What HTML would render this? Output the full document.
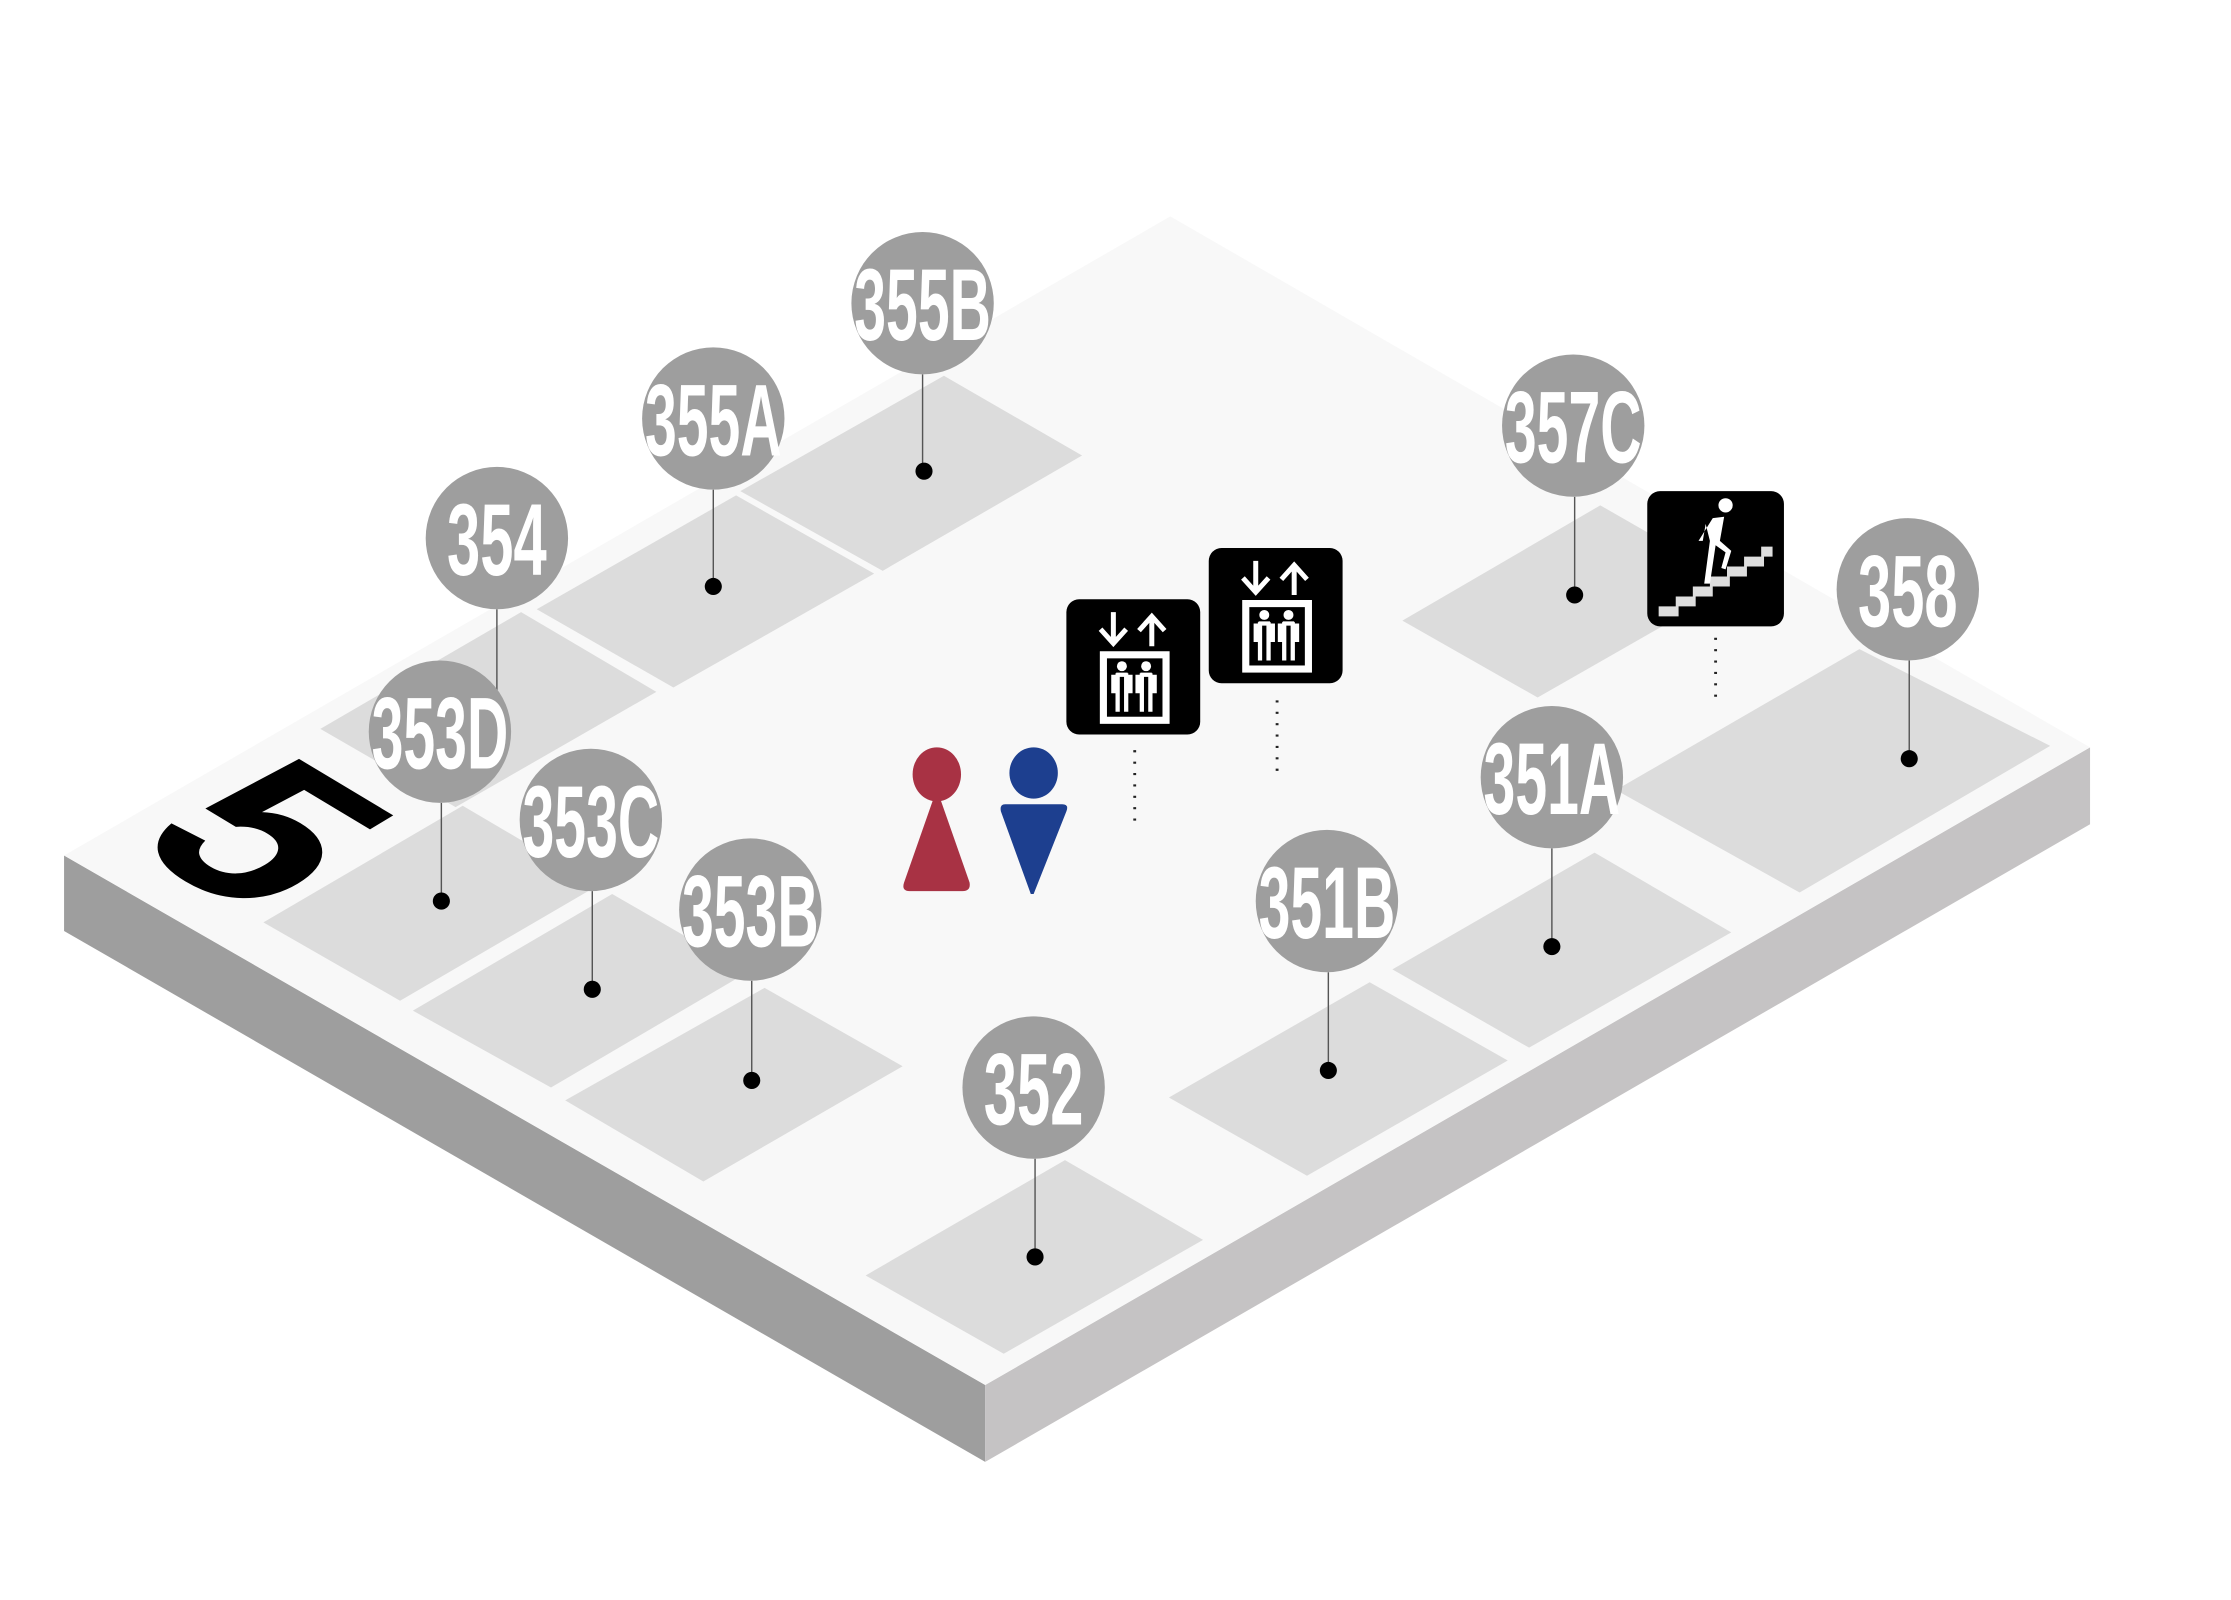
<!DOCTYPE html>
<html><head><meta charset="utf-8"><style>html,body{margin:0;padding:0;background:#fff}svg{display:block}</style></head><body>
<svg width="2231" height="1600" viewBox="0 0 1567 1124" preserveAspectRatio="none" xmlns="http://www.w3.org/2000/svg">
<defs>
<g id="elev">
<rect x="0" y="0" width="94" height="95" rx="9" fill="#000"/>
<g stroke="#fff" stroke-width="3.5" fill="none">
<path d="M33 9 V30 M24 21 L33 31 L42 21"/>
<path d="M60 33 V12 M51 22 L60 12 L69 22"/>
</g>
<rect x="26" y="39" width="44" height="46" fill="none" stroke="#fff" stroke-width="5"/>
<g fill="#fff"><circle cx="39" cy="47" r="3.5"/><circle cx="56" cy="47" r="3.5"/></g>
<g stroke="#fff" stroke-width="3" fill="none"><path d="M35 53 H43 M36 52 V79 M42 52 V79 M33 53 V66 M45 53 V66"/><path d="M52 53 H60 M53 52 V79 M59 52 V79 M50 53 V66 M62 53 V66"/></g>
</g>
</defs>
<rect width="1567" height="1124" fill="#fff"/>
<polygon points="45,601 692,973 692,1027 45,654" fill="#9e9e9e"/>
<polygon points="692,973 1468,525 1468,579 692,1027" fill="#c5c3c4"/>
<polygon points="45,601 822,152 1468,525 692,973" fill="#f8f8f8"/>
<g fill="#dcdcdc">
<polygon points="520,345 663,264 760,320 620,401"/>
<polygon points="377,428 517,348 614,403 473,483"/>
<polygon points="225,512 366,430 461,486 320,567"/>
<polygon points="185,648 325,566 420,622 281,703"/>
<polygon points="290,710 430,628 525,683 387,764"/>
<polygon points="397,773 537,694 634,749 494,830"/>
<polygon points="608,896 748,815 845,871 705,951"/>
<polygon points="821,771 962,690 1059,745 918,826"/>
<polygon points="978,681 1120,599 1216,655 1074,736"/>
<polygon points="1135,555 1306,456 1440,524 1264,627"/>
<polygon points="985,436 1124,355 1220,410 1080,490"/>
</g>
<text transform="matrix(1,0.6,-1,0.6,88,592)" font-family="Liberation Sans, sans-serif" font-weight="bold" font-size="160" fill="#000">5</text>
<ellipse cx="658" cy="544" rx="17" ry="19" fill="#a83244"/>
<path d="M656 560 H660 L681 620 Q682 626 676 626 H639 Q633 626 635 620 Z" fill="#a83244"/>
<ellipse cx="726" cy="543" rx="17" ry="18" fill="#1d3f8f"/>
<path d="M706 565 H746 Q751 565 749 570 L726 628 L724 628 L703 570 Q702 565 706 565 Z" fill="#1d3f8f"/>
<use href="#elev" x="749" y="421"/>
<use href="#elev" x="849" y="385"/>
<g stroke="#222" stroke-width="2" stroke-dasharray="1.5 6.5" fill="none">
<path d="M797 527 V582"/><path d="M897 492 V547"/><path d="M1205 448 V492"/>
</g>
<rect x="1157" y="345" width="96" height="95" rx="9" fill="#000"/>
<path d="M1165 433 V426 H1177 V419 H1189 V412 H1201 V405 H1213 V398 H1225 V391 H1237 V384 H1245 V391 H1239 V398 H1227 V405 H1215 V412 H1203 V419 H1191 V426 H1179 V433 Z" fill="#ddd"/>
<circle cx="1212" cy="355" r="5" fill="#fff"/>
<path d="M1203 364 L1211 363 L1208 380 L1216 387 L1212 400 L1209 399 L1212 388 L1205 383 L1201 410 L1197 410 L1201 380 L1198 368 L1196 380 L1193 380 Z" fill="#fff"/>
<g stroke="#555" stroke-width="1">
<path d="M648 263 V331"/><path d="M501 344 V412"/><path d="M349 428 V490"/><path d="M310 564 V633"/><path d="M416 626 V695"/><path d="M528 689 V759"/><path d="M727 814 V883"/><path d="M933 683 V752"/><path d="M1090 596 V665"/><path d="M1106 349 V418"/><path d="M1341 464 V533"/>
</g>
<g fill="#000">
<circle cx="649" cy="331" r="6"/><circle cx="501" cy="412" r="6"/><circle cx="310" cy="633" r="6"/><circle cx="416" cy="695" r="6"/><circle cx="528" cy="759" r="6"/><circle cx="727" cy="883" r="6"/><circle cx="933" cy="752" r="6"/><circle cx="1090" cy="665" r="6"/><circle cx="1106" cy="418" r="6"/><circle cx="1341" cy="533" r="6"/>
</g>
<g font-family="Liberation Sans, sans-serif" font-weight="bold" font-size="72" fill="#fff" text-anchor="middle">
<circle cx="349" cy="378" r="50" fill="#9e9e9e"/><text x="349" y="404" textLength="70" lengthAdjust="spacingAndGlyphs">354</text>
<circle cx="648" cy="213" r="50" fill="#9e9e9e"/><text x="648" y="239" textLength="96" lengthAdjust="spacingAndGlyphs">355B</text>
<circle cx="501" cy="294" r="50" fill="#9e9e9e"/><text x="501" y="320" textLength="96" lengthAdjust="spacingAndGlyphs">355A</text>
<circle cx="309" cy="514" r="50" fill="#9e9e9e"/><text x="309" y="540" textLength="96" lengthAdjust="spacingAndGlyphs">353D</text>
<circle cx="415" cy="576" r="50" fill="#9e9e9e"/><text x="415" y="602" textLength="96" lengthAdjust="spacingAndGlyphs">353C</text>
<circle cx="527" cy="639" r="50" fill="#9e9e9e"/><text x="527" y="665" textLength="96" lengthAdjust="spacingAndGlyphs">353B</text>
<circle cx="726" cy="764" r="50" fill="#9e9e9e"/><text x="726" y="790" textLength="70" lengthAdjust="spacingAndGlyphs">352</text>
<circle cx="932" cy="633" r="50" fill="#9e9e9e"/><text x="932" y="659" textLength="96" lengthAdjust="spacingAndGlyphs">351B</text>
<circle cx="1090" cy="546" r="50" fill="#9e9e9e"/><text x="1090" y="572" textLength="96" lengthAdjust="spacingAndGlyphs">351A</text>
<circle cx="1105" cy="299" r="50" fill="#9e9e9e"/><text x="1105" y="325" textLength="96" lengthAdjust="spacingAndGlyphs">357C</text>
<circle cx="1340" cy="414" r="50" fill="#9e9e9e"/><text x="1340" y="440" textLength="70" lengthAdjust="spacingAndGlyphs">358</text>
</g>
</svg>
</body></html>
